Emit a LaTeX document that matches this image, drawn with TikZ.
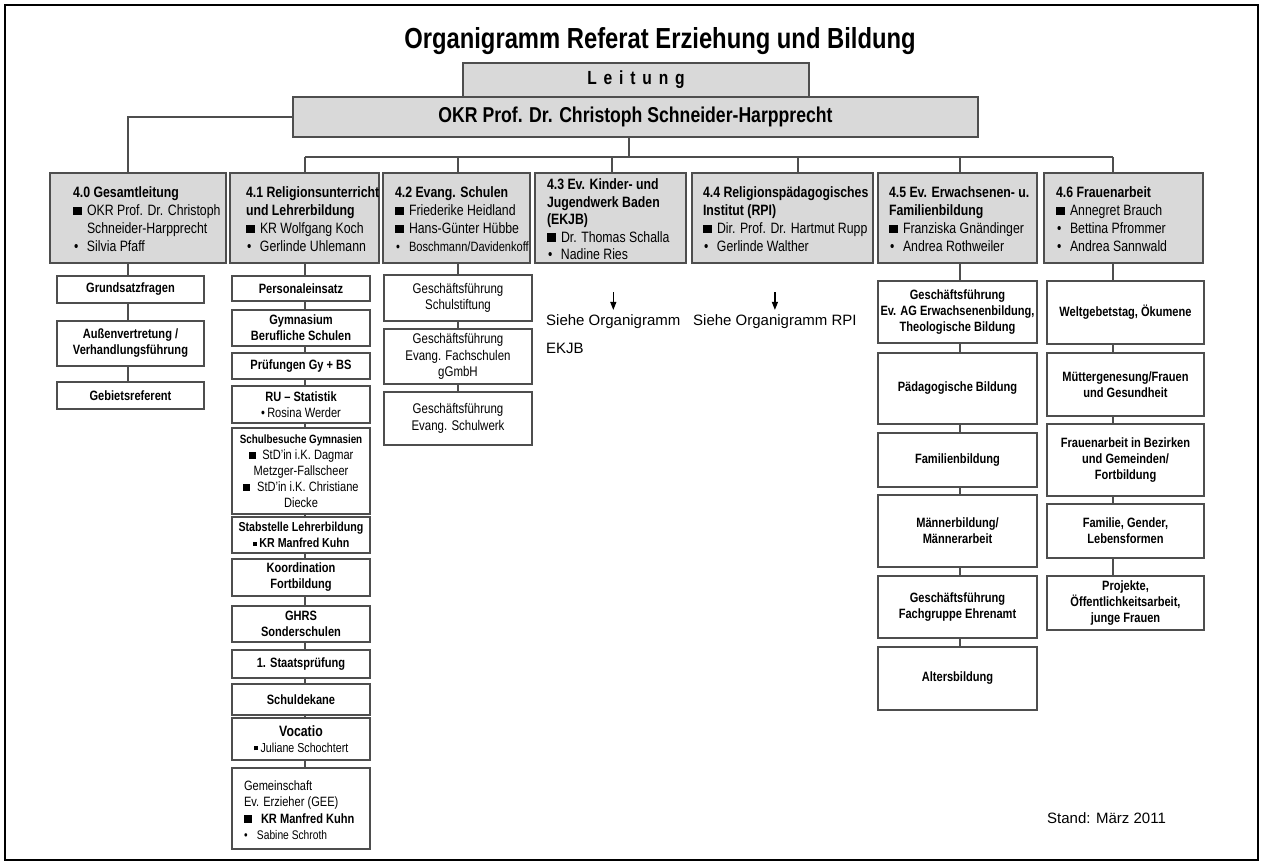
\documentclass[tikz,border=0pt]{standalone}
\usepackage{fontspec}
\setmainfont{Liberation Sans}[FakeStretch=0.82]
\newfontfamily\breit{Liberation Sans}
\usepackage{xcolor}
\usetikzlibrary{positioning, arrows.meta, calc}
\definecolor{linie}{HTML}{4E4E4E}
\definecolor{kopfgrau}{HTML}{D9D9D9}

\newcommand{\qb}{\makebox[14pt][l]{\rule[0.2pt]{8.5pt}{8.5pt}}}
\newcommand{\pb}{\makebox[14pt][l]{\hspace{1pt}\textbullet}}
\newcommand{\eb}{\hspace*{14pt}}
\newcommand{\kq}{\rule[2pt]{4pt}{4pt}}
% Breite, Einzug, Zeilen
\newcommand{\kopftext}[3]{\raisebox{-3pt}[\height][\depth]{\makebox[#1][l]{\hspace*{#2}\begin{tabular}{@{}l@{}}#3\end{tabular}}}}

\begin{document}
\begin{tikzpicture}[x=1pt, y=-1pt,
    kasten/.style={draw=linie, line width=1.3pt, outer sep=0pt},
    kopf/.style={kasten, fill=kopfgrau, minimum height=90pt, inner sep=0pt,
                 font=\fontsize{15}{18}\selectfont},
    feld/.style={kasten, fill=white, align=center, inner sep=2pt,
                 font=\bfseries\fontsize{13.5}{16}\selectfont},
    sp0/.style={feld, minimum width=147pt},
    sp1/.style={feld, minimum width=138pt},
    sp2/.style={feld, minimum width=148pt, font=\fontsize{14}{16.5}\selectfont},
    sp5/.style={feld, minimum width=159pt},
    sp6/.style={feld, minimum width=157pt},
    conn/.style={draw=linie, line width=1.3pt},
    pfeil/.style={-{Triangle[length=8pt, width=6pt]}, line width=1.2pt, black},
    hinweis/.style={font=\breit\fontsize{15}{28}\selectfont, align=left, inner sep=0pt}
  ]
    \useasboundingbox (0,0) rectangle (1263,865);
    \draw[line width=2.5pt] (5,5) rectangle (1258,860);

    % Kopf
    \node[font=\bfseries\fontsize{29}{34}\selectfont, anchor=base] (titel) at (660,48)
        {Organigramm Referat Erziehung und Bildung};
    \node[kasten, fill=kopfgrau, minimum width=346pt, minimum height=34pt,
          font=\bfseries\fontsize{19}{22}\selectfont\addfontfeature{LetterSpace=36}] (leitung) at (636,80) {Leitung};
    \node[kasten, fill=kopfgrau, minimum width=685pt, minimum height=40pt,
          font=\bfseries\fontsize{21.5}{25}\selectfont] (okr) at (635.5,117)
        {OKR Prof. Dr. Christoph Schneider-Harpprecht};

    % Abteilungen
    \node[kopf] (h0) at (138,218) {\kopftext{176pt}{23pt}{%
        \textbf{4.0 Gesamtleitung}\\ \qb OKR Prof. Dr. Christoph\\ \eb Schneider-Harpprecht\\ \pb Silvia Pfaff}};
    \node[kopf] (h1) at (304.5,218) {\kopftext{149pt}{16pt}{%
        \textbf{4.1 Religionsunterricht}\\ \textbf{und Lehrerbildung}\\ \qb KR Wolfgang Koch\\ \pb Gerlinde Uhlemann}};
    \node[kopf] (h2) at (456.5,218) {\kopftext{147pt}{12pt}{%
        \textbf{4.2 Evang. Schulen}\\ \qb Friederike Heidland\\ \qb Hans-Günter Hübbe\\ {\fontsize{13.5}{18}\selectfont\pb Boschmann/Davidenkoff}}};
    \node[kopf, font=\fontsize{15}{17.5}\selectfont] (h3) at (610.5,218) {\kopftext{151pt}{12pt}{%
        \textbf{4.3 Ev. Kinder- und}\\ \textbf{Jugendwerk Baden}\\ \textbf{(EKJB)}\\ \qb Dr. Thomas Schalla\\ \pb Nadine Ries}};
    \node[kopf] (h4) at (782.5,218) {\kopftext{181pt}{11pt}{%
        \textbf{4.4 Religionspädagogisches}\\ \textbf{Institut (RPI)}\\ \qb Dir. Prof. Dr. Hartmut Rupp\\ \pb Gerlinde Walther}};
    \node[kopf] (h5) at (957.5,218) {\kopftext{159pt}{11pt}{%
        \textbf{4.5 Ev. Erwachsenen- u.}\\ \textbf{Familienbildung}\\ \qb Franziska Gnändinger\\ \pb Andrea Rothweiler}};
    \node[kopf] (h6) at (1123.5,218) {\kopftext{159pt}{12pt}{%
        \textbf{4.6 Frauenarbeit}\\ \qb Annegret Brauch\\ \pb Bettina Pfrommer\\ \pb Andrea Sannwald}};

    % 4.0
    \node[sp0, minimum height=27pt] (g1) at (130.5,289.5) {Grundsatzfragen};
    \node[sp0, minimum height=45pt, below=18pt of g1] (g2) {Außenvertretung /\\Verhandlungsführung};
    \node[sp0, minimum height=27pt, below=16pt of g2] (g3) {Gebietsreferent};

    % 4.1
    \node[sp1, minimum height=25pt] (r1) at (301,288.5) {Personaleinsatz};
    \node[sp1, minimum height=36pt, below=9pt of r1] (r2) {Gymnasium\\Berufliche Schulen};
    \node[sp1, minimum height=26pt, below=7pt of r2] (r3) {Prüfungen Gy + BS};
    \node[sp1, minimum height=37pt, below=7pt of r3] (r4) {RU -- Statistik\\{\mdseries\textbullet\,Rosina Werder}};
    \node[sp1, minimum height=86pt, below=5pt of r4, font=\fontsize{13.5}{16}\selectfont] (r5)
        {{\bfseries\fontsize{12}{16}\selectfont Schulbesuche Gymnasien}\\ \rule{7pt}{7pt}\enspace StD'in i.K. Dagmar\\ Metzger-Fallscheer\\ \rule{7pt}{7pt}\enspace StD'in i.K. Christiane\\ Diecke};
    \node[sp1, minimum height=36pt, below=3pt of r5, font=\bfseries\fontsize{13}{16}\selectfont] (r6)
        {Stabstelle Lehrerbildung\\ \kq\ KR Manfred Kuhn};
    \node[sp1, minimum height=37pt, below=6pt of r6] (r7) {Koordination\\Fortbildung};
    \node[sp1, minimum height=36pt, below=10pt of r7] (r8) {GHRS\\Sonderschulen};
    \node[sp1, minimum height=28pt, below=8pt of r8] (r9) {1. Staatsprüfung};
    \node[sp1, minimum height=31pt, below=6pt of r9] (r10) {Schuldekane};
    \node[sp1, minimum height=42pt, below=3pt of r10] (r11)
        {{\fontsize{15}{18}\selectfont Vocatio}\\ {\mdseries\fontsize{13}{16}\selectfont\kq\ Juliane Schochtert}};
    \node[kasten, fill=white, minimum height=81pt, inner sep=0pt,
          font=\fontsize{13.5}{16.5}\selectfont, below=8pt of r11] (r12) {\kopftext{138pt}{12pt}{%
        Gemeinschaft\\ Ev. Erzieher (GEE)\\ \makebox[17pt][l]{\rule[0.2pt]{8pt}{8pt}}\textbf{KR Manfred Kuhn}\\ {\fontsize{12.5}{16}\selectfont\makebox[13pt][l]{\textbullet}Sabine Schroth}}};

    % 4.2
    \node[sp2, minimum height=46pt] (s1) at (458,298) {Geschäftsführung\\Schulstiftung};
    \node[sp2, minimum height=55pt, below=8pt of s1] (s2) {Geschäftsführung\\Evang. Fachschulen\\gGmbH};
    \node[sp2, minimum height=53pt, below=8pt of s2] (s3) {Geschäftsführung\\Evang. Schulwerk};

    % 4.3 und 4.4
    \node[hinweis, anchor=base west] (ekjb) at (546,353) {Siehe Organigramm\\EKJB};
    \node[hinweis, anchor=base west] (rpi) at (693,325) {Siehe Organigramm RPI};

    % 4.5
    \node[sp5, minimum height=62pt] (e1) at (957.5,312) {Geschäftsführung\\Ev. AG Erwachsenenbildung,\\Theologische Bildung};
    \node[sp5, minimum height=71pt, below=10pt of e1] (e2) {Pädagogische Bildung};
    \node[sp5, minimum height=54pt, below=9pt of e2] (e3) {Familienbildung};
    \node[sp5, minimum height=72pt, below=8pt of e3] (e4) {Männerbildung/\\Männerarbeit};
    \node[sp5, minimum height=62pt, below=9pt of e4] (e5) {Geschäftsführung\\Fachgruppe Ehrenamt};
    \node[sp5, minimum height=63pt, below=9pt of e5] (e6) {Altersbildung};

    % 4.6
    \node[sp6, minimum height=63pt] (f1) at (1125.5,312.5) {Weltgebetstag, Ökumene};
    \node[sp6, minimum height=63pt, below=9pt of f1] (f2) {Müttergenesung/Frauen\\und Gesundheit};
    \node[sp6, minimum height=72pt, below=8pt of f2] (f3) {Frauenarbeit in Bezirken\\und Gemeinden/\\Fortbildung};
    \node[sp6, minimum height=54pt, below=8pt of f3] (f4) {Familie, Gender,\\Lebensformen};
    \node[sp6, minimum height=54pt, below=18pt of f4] (f5) {Projekte,\\Öffentlichkeitsarbeit,\\junge Frauen};

    \node[hinweis, anchor=base west] (stand) at (1047,823) {Stand: März 2011};

    % Linien
    \coordinate (x0) at (128,0);
    \coordinate (x1) at (305,0);
    \coordinate (x2) at (458,0);
    \coordinate (x3) at (612,0);
    \coordinate (x4) at (798,0);
    \coordinate (x5) at (960,0);
    \coordinate (x6) at (1113,0);
    \coordinate (bus) at (629,157);

    \draw[conn] (okr.west) -| (h0.north -| x0);
    \draw[conn] (bus |- okr.south) -- (bus);
    \draw[conn] (bus -| x1) -- (bus -| x6);
    \foreach \k/\h in {x1/h1, x2/h2, x3/h3, x4/h4, x5/h5, x6/h6}
      \draw[conn] (bus -| \k) -- (\h.north -| \k);

    \foreach \a/\b in {h0/g1, g1/g2, g2/g3}
      \draw[conn] (\a.south -| x0) -- (\b.north -| x0);
    \foreach \a/\b in {h1/r1, r1/r2, r2/r3, r3/r4, r4/r5, r5/r6, r6/r7, r7/r8, r8/r9, r9/r10, r10/r11, r11/r12}
      \draw[conn] (\a.south -| x1) -- (\b.north -| x1);
    \foreach \a/\b in {h2/s1, s1/s2, s2/s3}
      \draw[conn] (\a.south -| x2) -- (\b.north -| x2);
    \foreach \a/\b in {h5/e1, e1/e2, e2/e3, e3/e4, e4/e5, e5/e6}
      \draw[conn] (\a.south -| x5) -- (\b.north -| x5);
    \foreach \a/\b in {h6/f1, f1/f2, f2/f3, f3/f4, f4/f5}
      \draw[conn] (\a.south -| x6) -- (\b.north -| x6);

    \draw[pfeil, shorten <=29pt, shorten >=4pt] (ekjb.north |- h3.south) -- (ekjb.north);
    \draw[pfeil, shorten <=29pt, shorten >=4pt] (rpi.north |- h4.south) -- (rpi.north);
  \end{tikzpicture}
\end{document}
